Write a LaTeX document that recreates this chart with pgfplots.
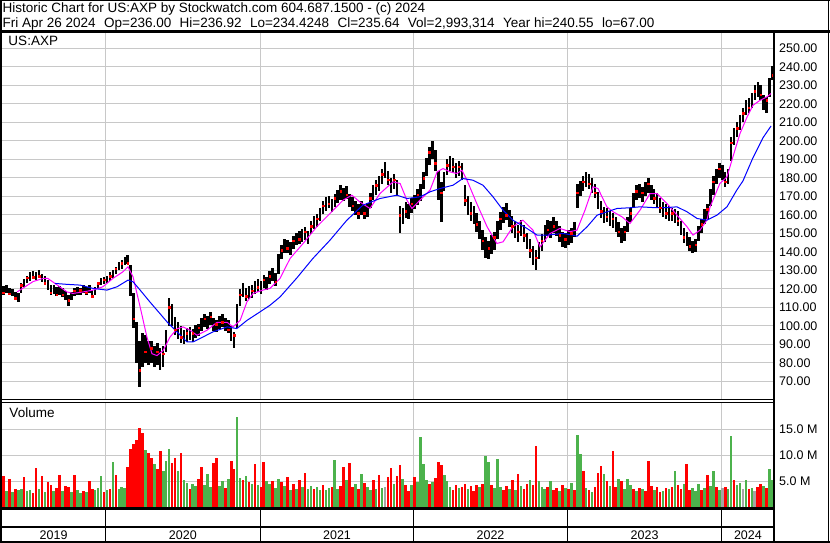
\documentclass[border=0pt]{standalone}
\usepackage{fontspec}
\setmainfont{Liberation Sans}
\usepackage{pgfplots}
\usepackage{pgfplotstable}
\pgfplotsset{compat=1.18}

\definecolor{gridgray}{RGB}{200,200,200}
\definecolor{volgreen}{RGB}{76,178,76}
\definecolor{volred}{RGB}{255,0,0}
\definecolor{volgray}{RGB}{165,165,165}
\definecolor{mamagenta}{RGB}{255,0,255}
\definecolor{mablue}{RGB}{0,0,255}

% weekly bars: week index, high, low, close, volume (millions), colour (0 down, 1 up, 2 flat)
\pgfplotstableread{
w hi lo cl v c
0 121.5 117 118 6.0 0
1 122 118 121 3.2 1
2 120.5 116.5 117.5 5.4 0
3 120 116 119 3.0 1
4 118.5 114 115 3.6 0
5 118 113 117 3.3 1
6 123 118 122 3.5 1
7 125.5 121 124 5.8 0
8 127 123 126 3.1 1
9 129 124.5 128 3.4 1
10 129.5 125.5 126.5 2.8 0
11 129 125 128 7.6 0
12 130 126 127 3.5 1
13 128 124 125 6.1 0
14 127 122 123 3.0 1
15 125 119.5 121 4.9 0
16 122 116.5 118 4.4 0
17 122 117.5 121 3.2 1
18 121 116 117 3.8 0
19 121.5 116.5 120 6.2 0
20 120.5 115.5 117 3.1 1
21 119 114 115 4.2 0
22 116.5 111 114 3.9 0
23 118.5 114 117 3.0 1
24 120.5 116 119 6.3 0
25 121 117 118 3.3 1
26 120.5 116.5 119.5 2.7 1
27 122 118 121 3.1 0
28 121 117 118 2.9 1
29 122 118 119 5.1 0
30 119.5 115 116 3.5 0
31 121 117 120 3.4 1
32 124 120 123 3.8 1
33 126 122 124.5 6.0 1
34 126.5 122.5 125 2.9 0
35 127 123 126 3.3 1
36 129 124.5 127 3.6 0
37 130 126 129 8.8 1
38 132 128 131 6.2 0
39 134.5 130 133 3.6 1
40 135.5 131 134 3.9 1
41 137.5 133 136 3.8 1
42 138.5 133.5 134 7.7 0
43 133 116 120 11.3 0
44 118 99 104 12.2 0
45 102 80 84 13.0 0
46 92 67 76 15.2 0
47 96 78 90 14.4 0
48 95 80 86 11.0 1
49 92 79 82 10.4 0
50 92 80 88 9.6 0
51 89 78 81 8.4 1
52 91 79 86 7.4 0
53 88 76 80 10.8 0
54 89 78 85 7.0 1
55 98 86 95 9.0 1
56 115 100 110 11.2 1
57 112 100 104 8.5 0
58 105 95 98 9.6 0
59 102 93 96 7.0 1
60 100 91 94 10.5 0
61 98 90 95 5.2 1
62 99 91.5 96 4.8 1
63 99.5 92.5 95 3.6 0
64 98.5 91.5 96 4.5 1
65 100.5 93.5 98 4.1 1
66 101 94.5 99 5.4 0
67 104.5 97.5 102 7.7 0
68 106.5 99.5 104 4.4 1
69 105.5 98.5 101 6.5 1
70 107.5 100.5 105 4.0 1
71 104.5 97.5 100 8.5 0
72 103.5 96.5 101 9.6 0
73 105.5 98.5 103 4.2 1
74 106.5 99.5 102 5.1 1
75 104.5 97.5 100 3.8 0
76 103.5 96 98 5.5 1
77 100 92 94 9.0 0
78 97 88 95 7.5 0
79 112 99 109 17.5 1
80 120 111 117 5.6 1
81 123 115.5 120 5.2 0
82 120.5 113.5 116 6.0 1
83 121.5 114.5 119 4.9 0
84 122 115 119 4.6 1
85 124.5 117.5 122 8.3 0
86 125.5 118.5 121 4.4 1
87 124.5 117.5 122 3.9 0
88 127.5 120.5 125 8.7 0
89 126.5 119.5 122 5.0 1
90 129.5 122.5 127 4.6 1
91 131.5 124.5 129 5.1 0
92 128.5 121.5 124 3.7 1
93 139 128 137 5.5 1
94 144 136 141 4.9 0
95 147 139.5 144 4.2 1
96 146.5 139.5 142 5.9 0
97 145.5 138.5 143 3.4 1
98 148.5 141.5 146 4.5 0
99 150.5 143.5 148 3.6 1
100 151.5 144.5 147 5.2 0
101 152.5 145.5 150 3.9 1
102 153.5 146.5 151 6.6 0
103 151.5 144.5 147 3.5 1
104 156.5 149.5 154 4.1 1
105 159.5 152.5 157 3.6 0
106 160.5 153.5 158 4.0 1
107 163.5 156.5 161 3.3 1
108 167.5 160.5 165 4.4 0
109 169.5 162 167 3.4 1
110 170.5 163.5 166 3.8 1
111 168.5 161.5 164 4.0 0
112 171.5 164.5 169 9.2 1
113 173.5 166.5 171 3.6 1
114 176 168 173 4.2 0
115 174.5 167.5 170 7.8 0
116 175.5 168.5 171 5.2 1
117 171.5 164.5 167 8.6 0
118 169.5 162 165 4.0 0
119 167.5 160 163 4.5 1
120 166 158 161 3.5 0
121 167.5 160 165 6.4 1
122 165.5 158 161 4.7 0
123 166.5 159 164 3.9 1
124 172 164 169 3.3 1
125 176 168 173 5.3 0
126 179 171 176 3.6 1
127 181 173 178 6.2 0
128 185 177 182 3.8 1
129 188.5 180 185 4.0 2
130 184 176 179 5.8 0
131 180 172 175 7.6 0
132 182 174 179 4.5 1
133 179 170 172 6.1 0
134 165 150 160 8.2 0
135 164 155 161 5.5 1
136 167 158.5 162 4.3 0
137 166 158 163 3.2 0
138 169 161 166 4.3 1
139 171 163 168 5.8 0
140 174 165.5 171 4.9 1
141 176.5 167.5 171 13.5 1
142 183 174 180 8.4 1
143 191 181 188 5.2 1
144 197 187 194 4.6 0
145 200 190 196 4.9 1
146 195 184 188 5.6 0
147 184 168 174 8.8 0
148 178 156 172 8.2 0
149 183 173 180 6.2 1
150 190 181.5 187 5.0 1
151 192 184 189 3.9 1
152 191 183 186 3.3 0
153 188 180 183 4.3 0
154 189 181 186 3.8 1
155 188 179 181 4.0 0
156 176 165 168 4.5 0
157 170 160 164 3.6 1
158 167 157 161 4.2 0
159 165 155 158 3.1 0
160 161 151 155 4.4 0
161 157 147 150 3.9 1
162 152 141 146 4.6 0
163 148 137 145 10.0 1
164 146 136 142 8.8 1
165 149 139 145 4.4 0
166 151 141 148 3.7 1
167 157 147 153 9.3 1
168 161.5 152 158 4.0 1
169 164.5 155.5 161 3.4 0
170 166.5 157.5 160 4.2 0
171 162.5 153.5 157 3.6 1
172 159.5 150.5 154 5.2 0
173 156.5 147.5 151 3.4 1
174 154.5 145.5 151 6.5 0
175 157.5 148.5 154 4.1 1
176 154.5 145.5 149 3.5 0
177 150.5 141.5 145 4.6 0
178 147 137 141 5.2 1
179 143 133 137 4.4 0
180 141 130.5 137 11.8 0
181 145.5 136 142 5.1 1
182 149.5 140.5 146 4.0 1
183 154.5 145.5 151 3.6 1
184 157.5 148.5 152 3.9 0
185 156.5 147.5 153 5.1 1
186 159 150.5 154 3.4 0
187 157 148.5 152 3.8 0
188 154 145.5 149 3.2 1
189 151 142.5 146 4.3 0
190 150 142 147 3.7 1
191 152 144 149 3.5 0
192 153 145 150 4.8 1
193 156 148 153 3.4 0
194 177 164 172 14.0 1
195 178.5 170 175 10.3 1
196 181 173 178 7.1 0
197 183 175 180 3.7 1
198 182 174 177 3.4 0
199 180 172 175 3.0 1
200 177 169 172 4.0 0
201 172.5 163 166 6.6 0
202 167.5 158.5 162 7.9 0
203 164.5 155.5 161 6.4 1
204 164 156 159 5.0 0
205 162 154 157 4.1 1
206 161 153 158 10.8 0
207 159 151 154 3.9 0
208 156 148 151 5.4 1
209 153 145 150 5.1 0
210 154 146 151 3.6 1
211 159 151 156 5.4 1
212 164 156 161 4.4 1
213 172 164 169 3.6 0
214 176 168 173 3.2 1
215 177 169 172 3.8 0
216 175 167 172 3.5 1
217 178 170 175 3.1 0
218 180 172 177 9.0 0
219 176 168 171 4.2 0
220 174 166 169 3.4 1
221 172 164 167 4.0 0
222 169 161 164 3.0 0
223 167 159 164 3.2 1
224 166 158 161 3.7 0
225 165 157 160 3.5 1
226 164 156.5 161 3.9 0
227 163 155.5 158 7.1 1
228 162 154 157 4.3 0
229 157 149 152 3.6 0
230 153 145 148 4.5 1
231 151 143 146 8.3 0
232 148 140.5 143 3.4 0
233 146 139.5 141 3.8 1
234 147 140 144 3.2 1
235 154 146 151 4.6 1
236 158 150 155 3.3 0
237 163 155 160 3.7 1
238 166 158 163 6.3 0
239 174 165 171 4.1 1
240 181 171 178 7.1 1
241 185 177 182 4.0 0
242 188 180 185 3.3 1
243 187 179 182 3.7 2
244 183 175 178 3.9 0
245 185 177 182 3.6 1
246 202 189 199 13.7 1
247 207 198 204 5.2 0
248 210 202 207 4.4 1
249 214 206 211 4.7 1
250 218 210 215 3.6 2
251 222 214 219 5.3 1
252 223 215 218 3.5 0
253 226 218 223 3.8 1
254 230 222 227 3.1 2
255 232 224 227 3.9 0
256 230 222 225 4.5 0
257 225 216.5 220 4.1 1
258 224 215 222 3.8 0
259 234 224 232 7.5 1
260 240.5 233 235.6 5.2 1
}\weekly

% faster moving average
\pgfplotstableread{
w ma
4.6 118.4
10 124
13.4 125.7
15 125.7
17.4 123
21.5 118.4
23.5 117.6
26.9 118.4
30.3 119.4
33.6 121.2
37 125.7
40.4 129.3
42.1 132
43.8 126.6
46.2 110.3
48.5 94
50.2 85
51.9 84
54 86.8
56.3 94
58.7 98.5
60.7 99.5
63.1 97.7
65.4 95
68.8 97.7
72.2 102
75.6 102
77.6 99.5
80 103
82.3 113
84.4 117.6
87.7 119.4
90.1 120.3
93.5 125.7
96.9 136.5
101.3 144.6
105.9 153.6
110.4 160.8
114.8 168
117.8 170.7
120.5 167
123.9 163.5
127.3 171.6
131.7 177.9
134.1 177
136.4 168
138.1 163.5
140.8 168
144.2 173.4
146.6 183.3
148.6 185.1
151 183.3
153.3 182.4
155 184.2
156.7 178.8
160 166.2
163.5 153.6
166.8 144.6
168.9 145.5
172.2 153.6
175.6 157.2
179 151.8
181.4 142.8
184.8 150
188.1 152.7
191.5 151
193.9 151.8
196.6 162.6
199.3 175.2
201 174.3
204 164.4
206.1 161.7
209.1 159
211.8 155.4
215.2 162.6
218.6 171.6
220.9 171.6
224.3 166.2
227.7 159.9
231.1 153.6
233.1 149.1
235.5 151.8
237.8 157.2
238.9 164.4
242.2 177
244.6 180.6
246.6 191.4
249 204
251.4 213
253.4 219.3
255.8 222
258.1 223.8
259.5 225.6
}\mafast

% slower moving average
\pgfplotstableread{
w ma
17.4 123
21.5 122.5
25.9 122.1
30.3 120.3
35 119.4
38.4 121.2
42.1 124.8
43.8 123.9
46.2 119.4
49.5 113
52.9 106.7
55.3 102.2
58.7 96.8
62 91.4
64.1 91.4
66.4 93.2
70.8 96.8
75.6 99.5
78.9 98.6
82.3 103
86.7 107.6
90.1 111.2
93.5 115.7
99.2 126
104.6 136.5
110.4 146.4
116.1 157.2
121.5 165.3
127.3 168.9
133 170.7
136.4 168.9
140.8 169.8
144.2 172.5
147.6 174.3
152 176.1
155.3 179.7
158.7 178.8
162.1 176.1
165.5 169.8
168.9 162.6
172.2 157.2
177 152.7
180.4 149.1
183.7 149.1
189.2 150
192.5 149.1
193.9 148.5
197.3 153.6
200.7 159.9
204 161.7
207.4 163.5
211.8 163.9
215.2 164.4
219.6 164
224.3 164
227.7 164.4
231.1 161.7
234.5 158.1
237.8 157.2
241.2 159.9
244.6 164.4
247.9 173.4
250 178.4
253.4 191
256.8 201.8
259.5 208.1
}\maslow

\newcommand{\hdrfont}{\fontsize{13.5bp}{15bp}\selectfont}
\newcommand{\tickfont}{\fontsize{12.5bp}{14bp}\selectfont}
\newcommand{\gap}{\hspace*{8.4bp}}

\pgfplotsset{
  panel/.style={
    anchor=south west, scale only axis, width=772bp,
    xmin=-0.5, xmax=260.5,
    axis line style={draw=none},
    major tick length=0pt,
    xtick={34.42,86.9,138.6,190.7,242.8}, xticklabels={},
    grid=major, grid style={gridgray, line width=1bp},
    yticklabel pos=right,
    tick label style={font=\tickfont},
    yticklabel style={anchor=west, inner sep=0pt, xshift=5bp},
  },
}

\begin{document}
\begin{tikzpicture}[x=1bp, y=1bp]
\path[use as bounding box] (0,0) rectangle (830,543);

% price panel
\begin{axis}[panel, at={(2bp,143bp)}, height=368bp,
  ymin=60, ymax=258.9, ytick={70,80,...,250},
  yticklabel={\pgfmathprintnumber[assume math mode=true,fixed,fixed zerofill,precision=2]{\tick}}]
\addplot[draw=none, mark=none,
  error bars/.cd, y dir=both, y explicit, error mark=none,
  error bar style={draw=black, line width=2.5bp}]
  table[x=w, y expr={0.5*(\thisrow{hi}+\thisrow{lo})},
        y error plus expr={0.5*(\thisrow{hi}-\thisrow{lo})},
        y error minus expr={0.5*(\thisrow{hi}-\thisrow{lo})}] {\weekly};
\addplot[only marks, mark=square*, mark size=0.8bp, color=volred, each nth point=2]
  table[x=w, y=cl] {\weekly};
\addplot[mamagenta, line width=1bp, mark=none] table[x=w, y=ma] {\mafast};
\addplot[mablue, line width=1bp, mark=none] table[x=w, y=ma] {\maslow};
\end{axis}

% volume panel
\begin{axis}[panel, at={(2bp,35.5bp)}, height=104.5bp,
  ymin=0, ymax=20.1, ytick={5,10,15},
  yticklabel={\pgfmathprintnumber[assume math mode=true,fixed,fixed zerofill,precision=1]{\tick} M}]
\addplot[ycomb, volgreen, line width=2.6bp, mark=none]
  table[x=w, y expr={\thisrow{c}==1 ? \thisrow{v} : nan}] {\weekly};
\addplot[ycomb, volred, line width=2.6bp, mark=none]
  table[x=w, y expr={\thisrow{c}==0 ? \thisrow{v} : nan}] {\weekly};
\addplot[ycomb, volgray, line width=2.6bp, mark=none]
  table[x=w, y expr={\thisrow{c}==2 ? \thisrow{v} : nan}] {\weekly};
\end{axis}

% frame
\draw[line width=2bp] (1,0) -- (1,543);
\draw[line width=1.5bp] (828.5,0) -- (828.5,543);
\draw[line width=1bp] (0,542.5) -- (830,542.5);
\draw[line width=1.5bp] (0,0.75) -- (830,0.75);
\draw[line width=2.5bp] (0,511.5) -- (830,511.5);
\draw[line width=2.7bp] (774,0) -- (774,511.5);
\draw[line width=1bp] (0,143) -- (774,143);
\draw[line width=1.5bp] (0,140.5) -- (774,140.5);
\draw[line width=2.5bp] (0,34.5) -- (774,34.5);
\draw[line width=2.5bp] (0,16) -- (774,16);
\foreach \xb in {105.3,260.5,413.5,567.5,721.7}
  \draw[line width=1.2bp] (\xb,1) -- (\xb,34.5);

% year names
\foreach \xc/\yr in {53.6/2019,182.9/2020,337/2021,490.5/2022,644.6/2023,747.9/2024}
  \node[font=\tickfont, inner sep=0pt] at (\xc,8) {\yr};

% header and panel names
\node[font=\hdrfont, anchor=base west, inner sep=0pt] at (2.5,530.3)
  {Historic Chart for US:AXP by Stockwatch.com 604.687.1500 - (c) 2024};
\node[font=\hdrfont, anchor=base west, inner sep=0pt] at (2.5,515.5)
  {Fri Apr 26 2024\gap Op=236.00\gap Hi=236.92\gap Lo=234.4248\gap Cl=235.64\gap Vol=2,993,314\gap Year hi=240.55\gap lo=67.00};
\node[font=\hdrfont, anchor=base west, inner sep=0pt] at (8.3,497.3) {US:AXP};
\node[font=\hdrfont, anchor=base west, inner sep=0pt] at (9.3,125.3) {Volume};
\end{tikzpicture}
\end{document}
